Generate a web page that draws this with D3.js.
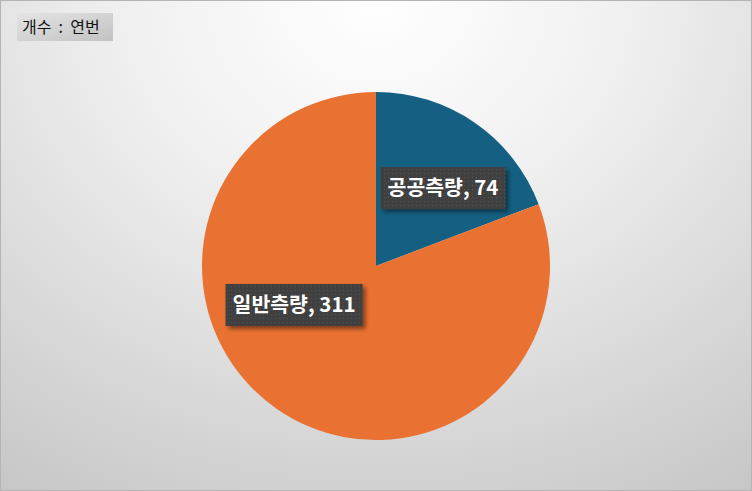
<!DOCTYPE html>
<html>
<head>
<meta charset="utf-8">
<script src="https://cdn.jsdelivr.net/npm/d3@7"></script>
<style>
  html, body { margin: 0; padding: 0; background: #fff; }
  svg { display: block; }
</style>
</head>
<body>
<svg id="chart"></svg>
<script>
// data ---------------------------------------------------------------
const categories = ['공공측량', '일반측량'];
const counts = [74, 311];
const filterLabel = '개수 : 연번';

// canvas -------------------------------------------------------------
const width = 752;
const height = 491;
const svg = d3.select('#chart')
  .attr('width', width)
  .attr('height', height);

const defs = svg.append('defs');

// background gradient (bright top centre, grey edges)
const bg = defs.append('radialGradient')
  .attr('id', 'bg')
  .attr('cx', '50%').attr('cy', '0%')
  .attr('r', '95%')
  .attr('gradientTransform', 'translate(0.5,0) scale(1,1.3) translate(-0.5,0)');
bg.append('stop').attr('offset', '0%').attr('stop-color', '#ffffff');
bg.append('stop').attr('offset', '35%').attr('stop-color', '#f0f0f0');
bg.append('stop').attr('offset', '100%').attr('stop-color', '#c4c4c4');

// filter button gradient
const btn = defs.append('linearGradient')
  .attr('id', 'btn')
  .attr('x1', '0').attr('y1', '0').attr('x2', '1').attr('y2', '1');
btn.append('stop').attr('offset', '0%').attr('stop-color', '#e4e4e4');
btn.append('stop').attr('offset', '100%').attr('stop-color', '#c2c2c2');

// dotted label fill
const pat = defs.append('pattern')
  .attr('id', 'dots')
  .attr('patternUnits', 'userSpaceOnUse')
  .attr('width', 4).attr('height', 4);
pat.append('rect').attr('width', 4).attr('height', 4).attr('fill', '#3f3f3f');
pat.append('rect').attr('x', 1).attr('y', 1).attr('width', 1).attr('height', 1).attr('fill', '#555555');

// drop shadow for labels
const shadow = defs.append('filter')
  .attr('id', 'shadow')
  .attr('x', '-20%').attr('y', '-30%')
  .attr('width', '150%').attr('height', '180%');
shadow.append('feDropShadow')
  .attr('dx', 3).attr('dy', 3)
  .attr('stdDeviation', 2)
  .attr('flood-color', '#000')
  .attr('flood-opacity', 0.45);

svg.append('rect')
  .attr('x', 0.5).attr('y', 0.5)
  .attr('width', width - 1).attr('height', height - 1)
  .attr('fill', 'url(#bg)')
  .attr('stroke', '#b4b4b4')
  .attr('stroke-width', 1);

// filter field button ------------------------------------------------
const fb = svg.append('g').attr('transform', 'translate(17,13)');
fb.append('rect')
  .attr('width', 96).attr('height', 28)
  .attr('fill', 'url(#btn)');
fb.append('text')
  .attr('x', 5).attr('y', 20)
  .attr('font-family', '"Noto Sans CJK KR", sans-serif')
  .attr('font-size', 16)
  .attr('fill', '#111')
  .text(filterLabel.replace(' : ', '  :  '))
  .style('white-space', 'pre');

// pie ----------------------------------------------------------------
const cx = 376, cy = 266, radius = 174;
const color = d3.scaleOrdinal()
  .domain(categories)
  .range(['#156082', '#E97132']);

const pie = d3.pie().sort(null).value(d => d.value);
const arcs = pie(categories.map((c, i) => ({ name: c, value: counts[i] })));
const arc = d3.arc().innerRadius(0).outerRadius(radius);

const g = svg.append('g').attr('transform', `translate(${cx},${cy})`);

g.selectAll('path')
  .data(arcs)
  .enter().append('path')
  .attr('d', arc)
  .attr('fill', d => color(d.data.name));

// data labels (offsets from centre in units of radius)
const labelAt = [[0.385, -0.448], [-0.471, 0.224]];

const lab = g.selectAll('g.label')
  .data(arcs)
  .enter().append('g')
  .attr('class', 'label')
  .attr('transform', (d, i) => `translate(${labelAt[i][0] * radius},${labelAt[i][1] * radius})`);

lab.append('rect').attr('class', 'box');
lab.append('text')
  .attr('text-anchor', 'middle')
  .attr('dy', '0.36em')
  .attr('font-family', '"Noto Sans CJK KR", sans-serif')
  .attr('font-weight', 'bold')
  .attr('font-size', 20.5)
  .attr('fill', '#fff')
  .text(d => `${d.data.name}, ${d.data.value}`);

lab.each(function () {
  const t = d3.select(this).select('text').node().getBBox();
  d3.select(this).select('rect')
    .attr('x', t.x - 7)
    .attr('y', -21)
    .attr('width', t.width + 14)
    .attr('height', 42)
    .attr('fill', 'url(#dots)')
    .attr('filter', 'url(#shadow)');
});
</script>
</body>
</html>
